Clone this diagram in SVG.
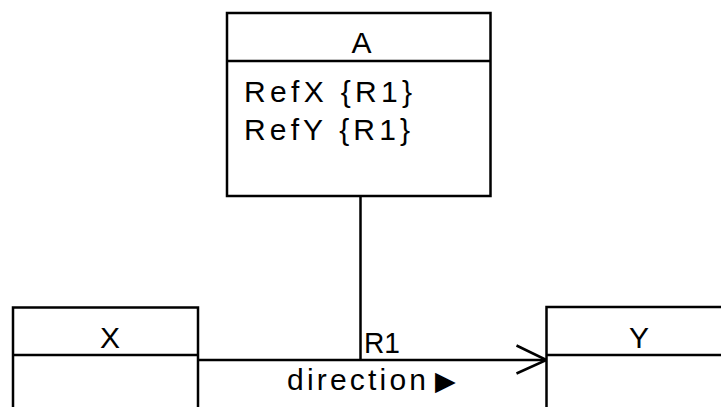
<svg xmlns="http://www.w3.org/2000/svg" width="721" height="407" viewBox="0 0 721 407">
<style>
.box{fill:#fff;stroke:#000;stroke-width:2.5}
.ln{fill:none;stroke:#000;stroke-width:2.5}
.t{font-family:"Liberation Sans",Arial,sans-serif;font-size:30px;fill:#000}
.c{text-anchor:middle}
</style>
<rect width="721" height="407" fill="#fff"/>
<g id="connectors">
<line class="ln" x1="198" y1="360" x2="546.5" y2="360"/>
<polyline class="ln" points="516.5,345.5 546.5,360 516.5,373.5"/>
<line class="ln" x1="360.5" y1="196" x2="360.5" y2="360"/>
<text class="t" x="364" y="353" textLength="36" lengthAdjust="spacingAndGlyphs">R1</text>
<text class="t" y="389.5"><tspan x="287" textLength="139" lengthAdjust="spacing">direction</tspan><tspan x="435" style="font-family:'DejaVu Sans',sans-serif;font-size:27px">▶</tspan></text>
</g>
<g id="A">
<rect class="box" x="227" y="13" width="263.5" height="183"/>
<line class="ln" x1="227" y1="61" x2="490.5" y2="61"/>
<text class="t c" x="361.5" y="53">A</text>
<text class="t" x="244" y="102" textLength="168" lengthAdjust="spacing">RefX {R1}</text>
<text class="t" x="244" y="140" textLength="166" lengthAdjust="spacing">RefY {R1}</text>
</g>
<g id="X">
<rect class="box" x="13" y="307.5" width="185" height="110"/>
<line class="ln" x1="13" y1="355" x2="198" y2="355"/>
<text class="t c" x="110" y="348">X</text>
</g>
<g id="Y">
<rect class="box" x="546.5" y="307" width="185" height="110"/>
<line class="ln" x1="546.5" y1="355" x2="731.5" y2="355"/>
<text class="t c" x="639" y="347.5">Y</text>
</g>
</svg>
